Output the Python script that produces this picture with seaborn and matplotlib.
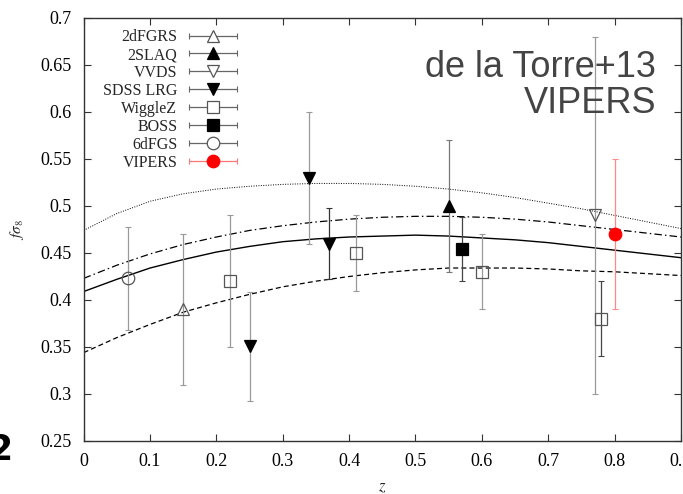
import numpy as np
import pandas as pd
import matplotlib
matplotlib.use("Agg")
import matplotlib.pyplot as plt
import seaborn as sns
from matplotlib.lines import Line2D
from matplotlib.legend_handler import HandlerBase

# ---------------- data ----------------
surveys = ["2dFGRS", "2SLAQ", "VVDS", "SDSS LRG", "WiggleZ", "BOSS", "6dFGS", "VIPERS"]
survey_z = {
    "2dFGRS": [0.15],
    "2SLAQ": [0.55],
    "VVDS": [0.77],
    "SDSS LRG": [0.25, 0.34, 0.37],
    "WiggleZ": [0.22, 0.41, 0.60, 0.78],
    "BOSS": [0.57],
    "6dFGS": [0.067],
    "VIPERS": [0.80],
}
survey_fs8 = {
    "2dFGRS": [0.39],
    "2SLAQ": [0.50],
    "VVDS": [0.49],
    "SDSS LRG": [0.351, 0.53, 0.46],
    "WiggleZ": [0.42, 0.45, 0.43, 0.38],
    "BOSS": [0.454],
    "6dFGS": [0.423],
    "VIPERS": [0.47],
}
survey_err = {
    "2dFGRS": [0.08],
    "2SLAQ": [0.07],
    "VVDS": [0.19],
    "SDSS LRG": [0.058, 0.07, 0.038],
    "WiggleZ": [0.07, 0.04, 0.04, 0.04],
    "BOSS": [0.034],
    "6dFGS": [0.055],
    "VIPERS": [0.08],
}

curve_z = [0.0, 0.05, 0.1, 0.15, 0.2, 0.25, 0.3, 0.35, 0.4, 0.45,
           0.5, 0.55, 0.6, 0.65, 0.7, 0.75, 0.8, 0.85, 0.9]
curve_dotted = [0.474, 0.492, 0.505, 0.513, 0.518, 0.521, 0.523, 0.524, 0.524, 0.523,
                0.521, 0.518, 0.514, 0.509, 0.503, 0.497, 0.490, 0.483, 0.476]
curve_dashdot = [0.423, 0.437, 0.449, 0.459, 0.467, 0.474, 0.479, 0.483, 0.486, 0.488,
                 0.489, 0.489, 0.488, 0.486, 0.483, 0.479, 0.475, 0.471, 0.467]
curve_solid = [0.409, 0.422, 0.434, 0.443, 0.451, 0.457, 0.462, 0.465, 0.467, 0.468,
               0.469, 0.468, 0.466, 0.464, 0.461, 0.457, 0.453, 0.449, 0.445]
curve_dashed = [0.344, 0.360, 0.374, 0.387, 0.397, 0.406, 0.414, 0.420, 0.425, 0.429,
                0.432, 0.434, 0.434, 0.434, 0.433, 0.431, 0.430, 0.428, 0.426]

x_ticks = [0, 0.1, 0.2, 0.3, 0.4, 0.5, 0.6, 0.7, 0.8, 0.9]
x_ticklabels = ["0", "0.1", "0.2", "0.3", "0.4", "0.5", "0.6", "0.7", "0.8", "0.9"]
y_ticks = [0.25, 0.3, 0.35, 0.4, 0.45, 0.5, 0.55, 0.6, 0.65, 0.7]
y_ticklabels = ["0.25", "0.3", "0.35", "0.4", "0.45", "0.5", "0.55", "0.6", "0.65", "0.7"]

# ---------------- style ----------------
styles = {
    "2dFGRS": dict(marker="^", mfc="none", mec="#555555", ms=8.5),
    "2SLAQ": dict(marker="^", mfc="black", mec="black", ms=8.5),
    "VVDS": dict(marker="v", mfc="none", mec="#555555", ms=8.5),
    "SDSS LRG": dict(marker="v", mfc="black", mec="black", ms=8.5),
    "WiggleZ": dict(marker="s", mfc="none", mec="#555555", ms=9),
    "BOSS": dict(marker="s", mfc="black", mec="black", ms=8.5),
    "6dFGS": dict(marker="o", mfc="none", mec="#555555", ms=9),
    "VIPERS": dict(marker="o", mfc="#ff0000", mec="#ff0000", ms=9),
}
err_colors = {
    "2dFGRS": ["#999999"],
    "2SLAQ": ["#777777"],
    "VVDS": ["#999999"],
    "SDSS LRG": ["#999999", "#999999", "#333333"],
    "WiggleZ": ["#999999", "#999999", "#999999", "#444444"],
    "BOSS": ["#444444"],
    "6dFGS": ["#999999"],
    "VIPERS": ["#ff8888"],
}
legend_err = {"VIPERS": "#ff7777"}

sns.set_theme(style="ticks")
plt.rcParams["font.family"] = ["Liberation Serif", "DejaVu Serif"]
plt.rcParams["mathtext.fontset"] = "stix"

fig = plt.figure(figsize=(6.83, 4.94), dpi=100)
ax = fig.add_axes([0.1225, 0.1073, 0.8745, 0.8563])

# model curves
cdf = pd.DataFrame({"z": curve_z, "dotted": curve_dotted, "dashdot": curve_dashdot,
                    "solid": curve_solid, "dashed": curve_dashed})
sns.lineplot(data=cdf, x="z", y="dotted", ax=ax, color="black", lw=0.7,
             linestyle=(0, (1, 1.5)))
sns.lineplot(data=cdf, x="z", y="dashdot", ax=ax, color="black", lw=0.9,
             linestyle=(0, (6, 2.5, 1.2, 2.5)))
sns.lineplot(data=cdf, x="z", y="solid", ax=ax, color="black", lw=1.0)
sns.lineplot(data=cdf, x="z", y="dashed", ax=ax, color="black", lw=0.9,
             linestyle=(0, (4, 2.5)))

# data points
for s in surveys:
    for zz, vv, ee, ec in zip(survey_z[s], survey_fs8[s], survey_err[s], err_colors[s]):
        ax.errorbar([zz], [vv], yerr=[ee], fmt="none", ecolor=ec, elinewidth=0.9,
                    capsize=2.3, capthick=0.8, zorder=3)
    st = styles[s]
    ax.plot(survey_z[s], survey_fs8[s], linestyle="none", marker=st["marker"],
            markerfacecolor=st["mfc"], markeredgecolor=st["mec"], markersize=st["ms"],
            markeredgewidth=0.9, zorder=4)


class ErrHandler(HandlerBase):
    def __init__(self, st, ecolor):
        super().__init__()
        self.st = st
        self.ecolor = ecolor

    def create_artists(self, legend, orig_handle, xdescent, ydescent, width, height,
                       fontsize, trans):
        y = height / 2 - ydescent
        x0, x1 = -xdescent, -xdescent + width
        line = Line2D([x0, x1], [y, y], color=self.ecolor, lw=0.9)
        caps = Line2D([x0, x1], [y, y], linestyle="none", marker="|", ms=5,
                      mew=0.8, color=self.ecolor)
        mk = Line2D([(x0 + x1) / 2], [y], linestyle="none", marker=self.st["marker"],
                    markerfacecolor=self.st["mfc"] if self.st["mfc"] != "none" else "white",
                    markeredgecolor=self.st["mec"], markersize=self.st["ms"], mew=0.9)
        for a in (line, caps, mk):
            a.set_transform(trans)
        return [line, caps, mk]


handles = [Line2D([], []) for _ in surveys]
hmap = {h: ErrHandler(styles[s], legend_err.get(s, "#666666")) for h, s in zip(handles, surveys)}
leg = ax.legend(handles, surveys, handler_map=hmap, loc="upper right",
                bbox_to_anchor=(0.276, 1.0), frameon=False, markerfirst=False,
                fontsize=11.5, handlelength=3.0, handletextpad=0.75, labelspacing=0.12,
                borderpad=0.2)

ax.set_xlim(0, 0.9)
ax.set_ylim(0.25, 0.7)
ax.set_xticks(x_ticks)
ax.set_xticklabels(x_ticklabels)
ax.set_yticks(y_ticks)
ax.set_yticklabels(y_ticklabels)
ax.tick_params(direction="in", length=5, width=0.8, top=True, right=True,
               labelsize=13, color="#333333", labelcolor="black")
ax.tick_params(axis="y", pad=9)
ax.tick_params(axis="x", pad=9)
for sp in ax.spines.values():
    sp.set_color("#333333")
    sp.set_linewidth(1.0)
ax.set_xlabel("$z$", fontsize=12, labelpad=6)
ax.set_ylabel(r"$f\sigma_8$", fontsize=11, labelpad=10)

ax.text(0.958, 0.925, "de la Torre+13\nVIPERS", transform=ax.transAxes, ha="right",
        va="top", fontsize=26, color="#444444", family=["Liberation Sans", "DejaVu Sans"],
        linespacing=1.05)

fig.text(12 / 683, 34 / 494, "2", ha="right", va="baseline", fontsize=25,
         fontweight="bold", family=["DejaVu Sans"], color="black")

fig.savefig("out.png", dpi=100)
